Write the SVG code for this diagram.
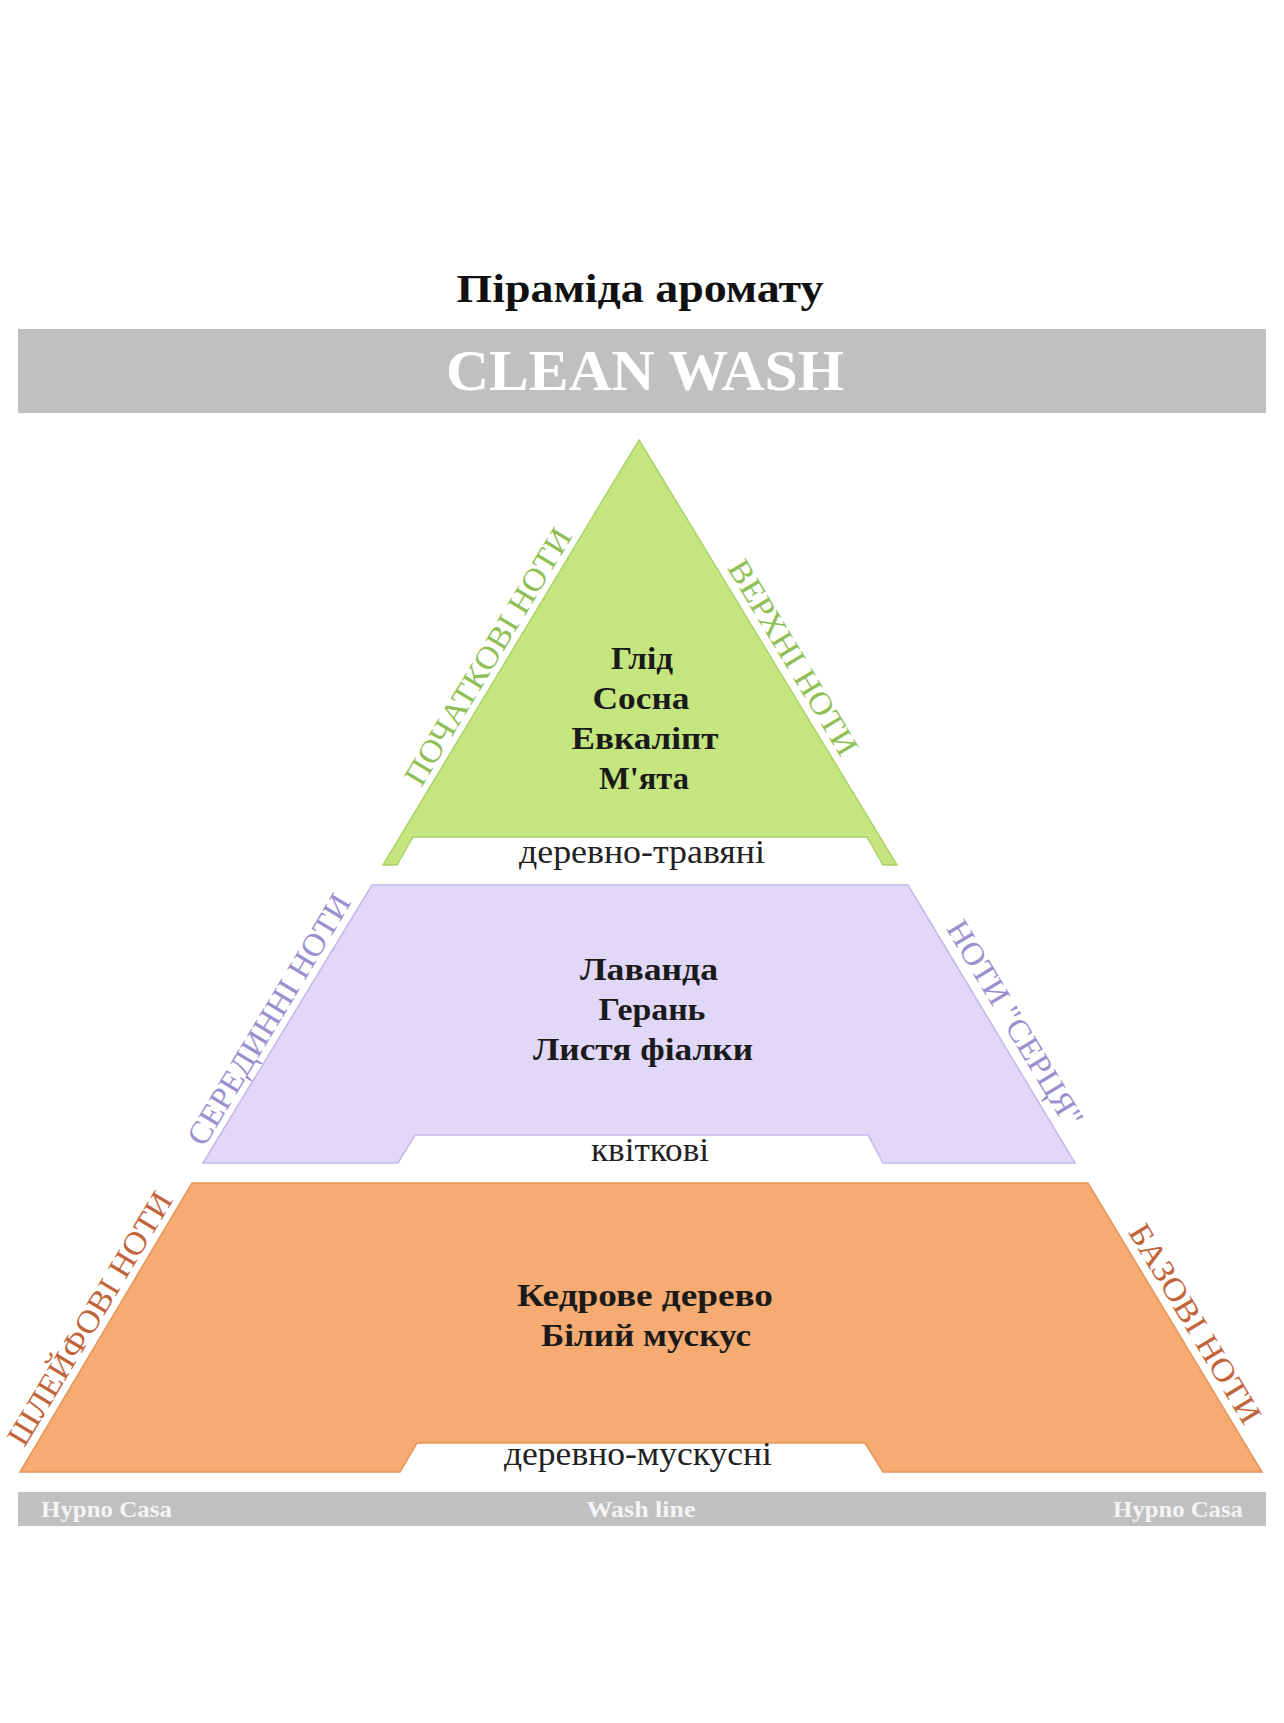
<svg xmlns="http://www.w3.org/2000/svg" width="1284" height="1723" viewBox="0 0 1284 1723">
  <style>
    .bar { fill: #c0c0c0; }
    .title { font-family: "Liberation Serif", serif; font-weight: bold; font-size: 40px; fill: #111; text-anchor: middle; }
    .brand { font-family: "Liberation Serif", serif; font-weight: bold; font-size: 56px; fill: #ffffff; text-anchor: middle; }
    .foot { font-family: "Liberation Serif", serif; font-weight: bold; font-size: 23px; fill: #f4f4f4; }
    .note { font-family: "Liberation Serif", serif; font-weight: bold; font-size: 32px; fill: #1a1a1a; text-anchor: middle; }
    .accord { font-family: "Liberation Serif", serif; font-size: 33px; fill: #222; text-anchor: middle; }
    .side { font-family: "Liberation Serif", serif; font-size: 32px; text-anchor: middle; }
    .top-fill { fill: #c5e57f; stroke: #a9d468; stroke-width: 1.5; }
    .heart-fill { fill: #e1d8f8; stroke: #c4b6ec; stroke-width: 1.5; }
    .base-fill { fill: #f5ab72; stroke: #e8955a; stroke-width: 1.5; }
    .top-side { fill: #8fbf55; }
    .heart-side { fill: #9b90cf; }
    .base-side { fill: #c2643a; }
  </style>

  <!-- heading -->
  <g id="heading">
    <text class="title" x="640" y="302" textLength="367" lengthAdjust="spacingAndGlyphs">Піраміда аромату</text>
    <rect class="bar" x="18" y="329" width="1248" height="84"/>
    <text class="brand" x="645" y="390" textLength="398" lengthAdjust="spacingAndGlyphs">CLEAN WASH</text>
  </g>

  <!-- top notes: triangle -->
  <g id="top-notes">
    <path class="top-fill" d="M639,440 L897,865 L883,865 L867,837 L413,837 L397,865 L383,865 Z"/>
    <text class="note" x="642" y="669" textLength="62" lengthAdjust="spacingAndGlyphs">Глід</text>
    <text class="note" x="641" y="709" textLength="97" lengthAdjust="spacingAndGlyphs">Сосна</text>
    <text class="note" x="645" y="749" textLength="147" lengthAdjust="spacingAndGlyphs">Евкаліпт</text>
    <text class="note" x="644" y="789" textLength="90" lengthAdjust="spacingAndGlyphs">М'ята</text>
    <text class="accord" x="642" y="863" textLength="246" lengthAdjust="spacingAndGlyphs">деревно-травяні</text>
    <text class="side top-side" transform="translate(497,662) rotate(-59)" textLength="294" lengthAdjust="spacingAndGlyphs">ПОЧАТКОВІ НОТИ</text>
    <text class="side top-side" transform="translate(784,663) rotate(59)" textLength="222" lengthAdjust="spacingAndGlyphs">ВЕРХНІ НОТИ</text>
  </g>

  <!-- heart notes: middle tier -->
  <g id="heart-notes">
    <path class="heart-fill" d="M372,885 L908,885 L1075,1163 L883,1163 L868,1135 L415,1135 L398,1163 L203,1163 Z"/>
    <text class="note" x="649" y="980" textLength="138" lengthAdjust="spacingAndGlyphs">Лаванда</text>
    <text class="note" x="652" y="1020" textLength="107" lengthAdjust="spacingAndGlyphs">Герань</text>
    <text class="note" x="643" y="1060" textLength="220" lengthAdjust="spacingAndGlyphs">Листя фіалки</text>
    <text class="accord" x="650" y="1161" textLength="118" lengthAdjust="spacingAndGlyphs">квіткові</text>
    <text class="side heart-side" transform="translate(278,1025) rotate(-59)" textLength="287" lengthAdjust="spacingAndGlyphs">СЕРЕДИННІ НОТИ</text>
    <text class="side heart-side" transform="translate(1006,1029) rotate(59)" textLength="235" lengthAdjust="spacingAndGlyphs">НОТИ "СЕРЦЯ"</text>
  </g>

  <!-- base notes: bottom tier -->
  <g id="base-notes">
    <path class="base-fill" d="M192,1183 L1088,1183 L1262,1472 L883,1472 L865,1443 L417,1443 L400,1472 L20,1472 Z"/>
    <text class="note" x="645" y="1306" textLength="256" lengthAdjust="spacingAndGlyphs">Кедрове дерево</text>
    <text class="note" x="646" y="1346" textLength="210" lengthAdjust="spacingAndGlyphs">Білий мускус</text>
    <text class="accord" x="638" y="1465" textLength="268" lengthAdjust="spacingAndGlyphs">деревно-мускусні</text>
    <text class="side base-side" transform="translate(99,1324) rotate(-59)" textLength="290" lengthAdjust="spacingAndGlyphs">ШЛЕЙФОВІ НОТИ</text>
    <text class="side base-side" transform="translate(1186,1329) rotate(59)" textLength="227" lengthAdjust="spacingAndGlyphs">БАЗОВІ НОТИ</text>
  </g>

  <!-- footer strip -->
  <g id="footer">
    <rect class="bar" x="18" y="1492" width="1248" height="34"/>
    <text class="foot" x="41" y="1517" textLength="131" lengthAdjust="spacingAndGlyphs">Hypno Casa</text>
    <text class="foot" x="641" y="1517" text-anchor="middle" textLength="109" lengthAdjust="spacingAndGlyphs">Wash line</text>
    <text class="foot" x="1113" y="1517" textLength="130" lengthAdjust="spacingAndGlyphs">Hypno Casa</text>
  </g>
</svg>
